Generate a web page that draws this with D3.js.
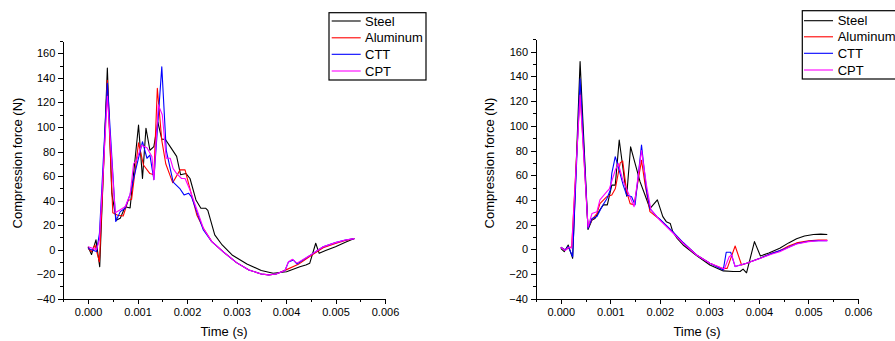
<!DOCTYPE html>
<html>
<head>
<meta charset="utf-8">
<script src="https://cdn.jsdelivr.net/npm/d3@7"></script>
<style>
  body { margin: 0; background: #fff; }
  svg { display: block; font-family: Arial, "Liberation Sans", sans-serif; }
  .axis path, .axis line { stroke: #000; stroke-width: 1; shape-rendering: crispEdges; }
  .axis text { fill: #000; font-size: 11px; }
</style>
</head>
<body>
<div id="chart"></div>
<script>
// time in ms, force in N
const seriesNames = ['Steel', 'Aluminum', 'CTT', 'CPT'];
const seriesColors = ['#000000', '#ff0000', '#0000ff', '#ff00ff'];

const xTicks = [0, 0.001, 0.002, 0.003, 0.004, 0.005, 0.006];
const yTicks = [-40, -20, 0, 20, 40, 60, 80, 100, 120, 140, 160];

// left panel
const leftSteel = [[0,2.4],[0.07,-4],[0.16,8],[0.236,-14],[0.39,148],[0.48,46],[0.57,24],[0.65,25.5],[0.75,35],[0.85,34],
  [1.02,101.6],[1.10,58],[1.17,99],[1.25,81],[1.33,84],[1.41,104],[1.49,90],[1.56,90],[1.66,84],[1.79,76],[1.87,61],[1.98,62],
  [2.06,58],[2.18,40.5],[2.28,33.7],[2.38,33.7],[2.42,32],[2.56,12],[2.71,3.8],[2.91,-4.3],[3.21,-11.7],[3.5,-17],[3.74,-19.3],
  [4.01,-18],[4.28,-14],[4.4,-12.5],[4.48,-11],[4.6,5.2],[4.67,-3],[4.8,-0.8],[5.0,2.4],[5.2,6],[5.38,9]];
const leftAluminum = [[0,1],[0.07,-1.6],[0.14,3.8],[0.23,-10],[0.39,138],[0.5,30],[0.6,28],[0.71,27.4],[0.81,40],[0.88,41],
  [1.02,87],[1.12,69],[1.25,62],[1.33,61],[1.40,131.5],[1.49,89],[1.57,70],[1.71,54.6],[1.86,65],[1.96,65],[2.05,51],[2.20,28],
  [2.33,17.4],[2.5,6.5],[2.75,-2.4],[3.0,-10.6],[3.25,-16.6],[3.5,-19.8],[3.65,-20.6],[3.8,-19.8],[4.0,-16.5],[4.25,-12],
  [4.5,-5],[4.75,1.5],[5.0,5],[5.2,7.5],[5.38,9]];
const leftCTT = [[0,1],[0.17,-1.6],[0.23,13],[0.39,135.6],[0.56,23],[0.65,31],[0.75,33.7],[0.85,45],[0.95,63],[1.10,88],
  [1.19,74.5],[1.25,77],[1.33,57],[1.49,149],[1.58,81],[1.72,55],[1.85,50],[1.94,44.6],[2.03,46],[2.09,43],[2.33,16],[2.5,6.5],
  [2.75,-2.4],[3.0,-10.6],[3.25,-16.6],[3.5,-19.8],[3.65,-20.6],[3.8,-19.8],[3.98,-17],[4.05,-10],[4.15,-8.5],[4.22,-11.7],
  [4.5,-4.3],[4.75,2.4],[5.0,5.7],[5.2,7.9],[5.38,9]];
const leftCPT = [[0,2.4],[0.17,0],[0.23,8],[0.39,125],[0.55,30],[0.75,35],[0.85,45],[0.92,70],[0.98,73],[1.08,85],[1.19,83],
  [1.29,76],[1.33,57],[1.42,118],[1.50,110],[1.58,74.5],[1.66,74.5],[1.72,66],[1.79,62],[1.89,58],[1.96,58],[2.06,48.6],
  [2.33,17.4],[2.5,6.5],[2.75,-2.4],[3.0,-10.6],[3.25,-16.6],[3.5,-19.8],[3.65,-20.6],[3.8,-19.8],[3.98,-17],[4.05,-9.8],
  [4.13,-7.9],[4.22,-11],[4.5,-4.3],[4.75,2.4],[5.0,5.7],[5.2,7.9],[5.38,9]];

// right panel
const rightSteel = [[0,0.8],[0.07,-1.9],[0.15,3.5],[0.24,-7.3],[0.39,152],[0.55,16],[0.63,23.7],[0.69,25],[0.79,32],[0.86,36],
  [0.94,36],[1.03,52],[1.10,52],[1.18,88.5],[1.33,43],[1.41,83],[1.50,69.6],[1.60,54.8],[1.70,44],[1.80,33],[1.95,40],
  [2.06,26.5],[2.13,22.4],[2.21,21],[2.26,14.3],[2.35,8.9],[2.47,3.5],[2.74,-5],[3.01,-12.7],[3.28,-17.5],[3.48,-18],
  [3.62,-18],[3.68,-16],[3.75,-19],[3.91,6.2],[4.03,-5.4],[4.2,-3],[4.42,0.8],[4.6,5.2],[4.76,8.5],[4.92,10.8],[5.1,12],
  [5.25,12.3],[5.38,12]];
const rightAluminum = [[0,1.6],[0.09,-0.5],[0.16,1],[0.22,2],[0.39,128],[0.55,17.5],[0.63,24],[0.73,29],[0.79,37],[0.93,42.6],
  [1.03,44],[1.10,49],[1.20,70],[1.25,71.5],[1.33,46.7],[1.40,37],[1.48,36],[1.63,72],[1.70,53],[1.80,30.5],[2.0,24],
  [2.27,13.5],[2.47,5.2],[2.74,-4.6],[3.01,-11.3],[3.25,-15.4],[3.36,-15.4],[3.52,2.7],[3.65,-12.7],[3.75,-11.3],[4.02,-7.3],
  [4.25,-3.3],[4.42,-1.1],[4.6,2.6],[4.76,5.2],[5.0,6.8],[5.2,7.4],[5.38,7.5]];
const rightCTT = [[0,1.6],[0.09,-0.5],[0.15,2.2],[0.24,-6],[0.39,138],[0.55,17],[0.63,25],[0.73,26.5],[0.83,34.5],[0.93,41],
  [1.0,48],[1.03,61.5],[1.10,75],[1.16,67],[1.26,52],[1.33,44],[1.43,42.6],[1.50,36],[1.63,84.5],[1.73,48],[1.80,33],
  [1.94,26.5],[2.0,24.5],[2.27,14],[2.47,5.5],[2.74,-4.6],[3.01,-11.3],[3.28,-16.7],[3.34,-2.4],[3.43,-2.4],[3.52,-14],
  [3.75,-11.3],[4.02,-7.3],[4.25,-3.5],[4.5,0],[4.76,4.5],[5.0,6.5],[5.2,7],[5.38,7]];
const rightCPT = [[0,1.6],[0.09,-1],[0.15,1.5],[0.22,1],[0.39,125],[0.55,18],[0.63,29],[0.73,30.5],[0.79,40],[0.93,46.7],
  [0.98,49],[1.10,64],[1.16,69.6],[1.26,55],[1.37,45],[1.48,34.5],[1.63,80],[1.73,52],[1.82,32],[2.0,23.7],[2.27,13],
  [2.47,4.9],[2.74,-4.6],[3.01,-11.3],[3.3,-16],[3.40,-6],[3.45,-4.6],[3.52,-14],[3.75,-11.3],[4.02,-7.5],[4.25,-4],
  [4.42,-1.9],[4.6,1.5],[4.76,4.3],[5.0,6.2],[5.2,6.9],[5.38,7]];

const W = 895, H = 341;

const svg = d3.select('#chart').append('svg')
  .attr('width', W)
  .attr('height', H);

const panels = [
  {
    series: [leftSteel, leftAluminum, leftCTT, leftCPT],
    xRange: [63.3, 385], yRange: [298.7, 41.1],
    yTitleX: 17, xTitleX: 224,
    legend: {x: 329, y: 12.7, w: 97, h: 67.3, rowY: [21, 37.8, 54.3, 71], lineX: [331.7, 360.7], textX: 365}
  },
  {
    series: [rightSteel, rightAluminum, rightCTT, rightCPT],
    xRange: [536, 858], yRange: [298.7, 39.4],
    yTitleX: 489.5, xTitleX: 697,
    legend: {x: 802.3, y: 10.7, w: 120, h: 68.3, rowY: [20.7, 36.8, 53.3, 70], lineX: [804, 833], textX: 837.7}
  }
];

panels.forEach(p => {
  const x = d3.scaleLinear().domain([-0.0005, 0.006]).range(p.xRange);
  const y = d3.scaleLinear().domain([-40, 170]).range(p.yRange);

  const g = svg.append('g');

  // minor ticks
  g.append('g')
    .attr('class', 'axis')
    .attr('transform', 'translate(0,' + p.yRange[0] + ')')
    .call(d3.axisBottom(x)
      .tickValues(d3.range(-0.0005, 0.006, 0.001))
      .tickFormat('')
      .tickSize(3)
      .tickSizeOuter(0));

  g.append('g')
    .attr('class', 'axis')
    .attr('transform', 'translate(' + p.xRange[0] + ',0)')
    .call(d3.axisLeft(y)
      .tickValues(d3.range(-30, 171, 20))
      .tickFormat('')
      .tickSize(3)
      .tickSizeOuter(0));

  // X Axis
  g.append('g')
    .attr('class', 'axis')
    .attr('transform', 'translate(0,' + p.yRange[0] + ')')
    .call(d3.axisBottom(x)
      .tickValues(xTicks)
      .tickFormat(d3.format('.3f'))
      .tickSize(5)
      .tickSizeOuter(0)
      .tickPadding(5));

  // Y Axis
  g.append('g')
    .attr('class', 'axis')
    .attr('transform', 'translate(' + p.xRange[0] + ',0)')
    .call(d3.axisLeft(y)
      .tickValues(yTicks)
      .tickFormat(d3.format('d'))
      .tickSize(5)
      .tickSizeOuter(0)
      .tickPadding(3));

  // titles
  g.append('text')
    .attr('x', p.xTitleX)
    .attr('y', 336)
    .attr('text-anchor', 'middle')
    .attr('font-size', '13px')
    .text('Time (s)');

  g.append('text')
    .attr('transform', 'translate(' + p.yTitleX + ',163) rotate(-90)')
    .attr('text-anchor', 'middle')
    .attr('dy', '0.35em')
    .attr('font-size', '13px')
    .text('Compression force (N)');

  // lines
  const line = d3.line()
    .x(d => x(d[0] / 1000))
    .y(d => y(d[1]));

  g.append('g')
    .selectAll('path')
    .data(p.series)
    .enter().append('path')
      .attr('d', d => line(d))
      .attr('fill', 'none')
      .attr('stroke', (d, i) => seriesColors[i])
      .attr('stroke-width', 1.1)
      .attr('stroke-linejoin', 'round');

  // legend
  const L = p.legend;
  const lg = g.append('g');
  lg.append('rect')
    .attr('x', L.x)
    .attr('y', L.y)
    .attr('width', L.w)
    .attr('height', L.h)
    .attr('fill', '#fff')
    .attr('stroke', '#000')
    .attr('stroke-width', 1.2);

  const rows = lg.selectAll('g.row')
    .data(seriesNames)
    .enter().append('g')
      .attr('class', 'row');

  rows.append('line')
    .attr('x1', L.lineX[0])
    .attr('x2', L.lineX[1])
    .attr('y1', (d, i) => L.rowY[i])
    .attr('y2', (d, i) => L.rowY[i])
    .attr('stroke', (d, i) => seriesColors[i])
    .attr('stroke-width', 1.1);

  rows.append('text')
    .attr('x', L.textX)
    .attr('y', (d, i) => L.rowY[i])
    .attr('dy', '0.35em')
    .attr('font-size', '13px')
    .text(d => d);
});
</script>
</body>
</html>
